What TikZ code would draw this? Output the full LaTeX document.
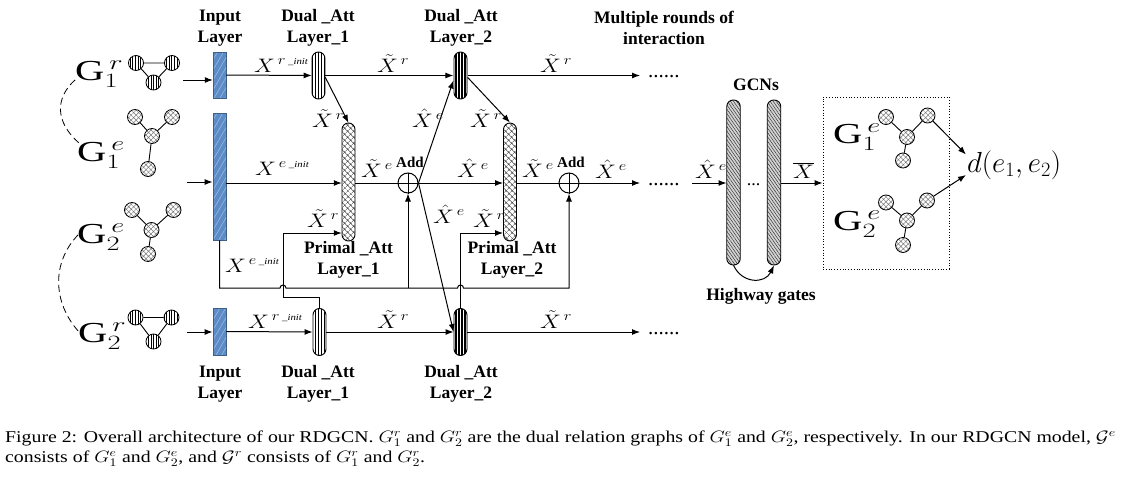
\RequirePackage{fix-cm}
\documentclass[tikz,border=0pt]{standalone}
\usepackage{fontspec}
\setmainfont{Liberation Serif}
\usepackage{graphicx}
\usepackage{tikz}
\usetikzlibrary{positioning, arrows.meta, patterns.meta, calc}
\definecolor{inputBlue}{HTML}{5B8CC8}
\definecolor{inputEdge}{HTML}{3E5F86}
\definecolor{gcnGray}{HTML}{D4D4D4}
\definecolor{meshGray}{HTML}{7A7A7A}

\newcommand{\xtil}[1]{\scalebox{1.2}[1]{$\tilde{X}^{\,#1}$}}
\newcommand{\xhat}[1]{\scalebox{1.2}[1]{$\hat{X}^{\,#1}$}}
\newcommand{\xinit}[1]{\scalebox{1.2}[1]{$X^{\,#1\,\mbox{\fontsize{9}{9}\selectfont\itshape\_init}}$}}
\newcommand{\gname}[2]{\scalebox{1.4}[1]{G$^{\,#1}_{#2}$}}
\newcommand{\capline}[1]{\scalebox{1.2}[1]{#1}}

\tikzset{
  flow/.style={line width=1pt, -{Latex[length=8pt,width=6pt]}},
  wire/.style={line width=1pt},
  gedge/.style={line width=0.9pt},
  inputbar/.style={draw=inputEdge, line width=0.8pt, minimum width=13pt, inner sep=0pt,
    preaction={fill=inputBlue}, pattern={Lines[angle=60,distance=5pt,line width=0.5pt]},
    pattern color=inputBlue!55!white},
  dualatt/.style={draw, line width=0.9pt, rounded corners=6.5pt, minimum width=13pt,
    minimum height=47pt, inner sep=0pt, preaction={fill=white},
    pattern={Lines[angle=90,distance=3pt,line width=0.6pt]}},
  dualattB/.style={dualatt, pattern={Lines[angle=90,distance=3pt,line width=1.2pt]}},
  primalatt/.style={draw, line width=0.9pt, rounded corners=6.5pt, minimum width=13pt,
    minimum height=118pt, inner sep=0pt, preaction={fill=white},
    pattern={Hatch[angle=45,distance=4pt,line width=0.5pt]}, pattern color=black!70},
  gcnbar/.style={draw, line width=0.9pt, rounded corners=6.5pt, minimum width=13.5pt,
    minimum height=165pt, inner sep=0pt, preaction={fill=gcnGray},
    pattern={Lines[angle=-55,distance=2.5pt,line width=0.5pt]}, pattern color=black!80},
  addop/.style={draw, circle, line width=1pt, minimum size=20pt, inner sep=0pt},
  enode/.style={draw, circle, line width=0.8pt, minimum size=15pt, inner sep=0pt,
    preaction={fill=white}, pattern={Hatch[angle=45,distance=3.5pt,line width=0.5pt]},
    pattern color=meshGray},
  rnode/.style={draw, circle, line width=0.8pt, minimum size=15pt, inner sep=0pt,
    preaction={fill=white}, pattern={Lines[angle=90,distance=2.6pt,line width=0.6pt]}},
  layerlbl/.style={font=\fontsize{17.5}{21}\selectfont\bfseries, align=center, inner sep=0pt},
  addlbl/.style={font=\fontsize{15}{15}\selectfont\bfseries, inner sep=0pt, anchor=base},
  feat/.style={font=\fontsize{19.5}{22}\selectfont, inner sep=0pt, anchor=base west},
  glabel/.style={font=\fontsize{29}{32}\selectfont, inner sep=0pt, anchor=base west},
  dots/.style={font=\fontsize{21}{21}\selectfont, inner sep=0pt, anchor=base west},
  caption/.style={font=\fontsize{16.5}{15}\selectfont, inner sep=0pt, anchor=base west},
}

\begin{document}
\begin{tikzpicture}[x=1pt, y=-1pt]
\useasboundingbox (0,0) rectangle (1130,479);

% graph labels and small input graphs
\node[glabel] (g1r) at (75,80) {\gname{r}{1}};
\node[glabel] (g1e) at (77,161) {\gname{e}{1}};
\node[glabel] (g2e) at (77,243) {\gname{e}{2}};
\node[glabel] (g2r) at (78,342) {\gname{r}{2}};
\draw[dashed, dash pattern=on 7pt off 4pt, line width=0.8pt]
  ($(g1r.west)+(0,6)$) .. controls (55,98) and (55,122) .. ($(g1e.west)+(2,-12)$);
\draw[dashed, dash pattern=on 7pt off 4pt, line width=0.8pt]
  ($(g2e.west)+(1,-2)$) .. controls (52,262) and (52,302) .. ($(g2r.west)+(1,-4)$);

\node[rnode] (r1a) at (136,63) {};
\node[rnode] (r1b) at (172,63) {};
\node[rnode] (r1c) at (153.5,82.5) {};
\draw[gedge] (r1a) -- (r1b) (r1b) -- (r1c) (r1c) -- (r1a);

\node[enode] (e1a) at (135,117) {};
\node[enode] (e1b) at (172,117) {};
\node[enode] (e1c) at (152,136) {};
\node[enode] (e1d) at (148,169) {};
\draw[gedge] (e1a) -- (e1c) (e1b) -- (e1c) (e1c) -- (e1d);

\node[enode] (e2a) at (132,210) {};
\node[enode] (e2b) at (173.5,210) {};
\node[enode] (e2c) at (151.5,230) {};
\node[enode] (e2d) at (148,254) {};
\draw[gedge] (e2a) -- (e2c) (e2b) -- (e2c) (e2c) -- (e2d);

\node[rnode] (r2a) at (135.5,317.5) {};
\node[rnode] (r2b) at (171.5,317.5) {};
\node[rnode] (r2c) at (153.5,341.5) {};
\draw[gedge] (r2a) -- (r2b) (r2b) -- (r2c) (r2c) -- (r2a);

% input layers
\node[inputbar, minimum height=46pt] (inp1) at (219.5,75) {};
\node[inputbar, minimum height=127pt] (inp2) at (219.5,176.5) {};
\node[inputbar, minimum height=47pt] (inp3) at (219.5,331.5) {};
\coordinate (src1) at (183,80);
\coordinate (src2) at (187,182);
\coordinate (src3) at (187,332);
\draw[flow] (src1) -- (src1 -| inp1.west);
\draw[flow] (src2) -- (src2 -| inp2.west);
\draw[flow] (src3) -- (src3 -| inp3.west);

% attention layers
\node[dualatt] (d1r) at (318.5,75.5) {};
\node[dualattB] (d2r) at (460.5,75.5) {};
\node[primalatt] (p1) at (348.5,182) {};
\node[primalatt] (p2) at (510,182) {};
\node[addop] (a1) at (408,183) {};
\node[addop] (a2) at (569,183) {};
\draw[line width=1pt] (a1.north) -- (a1.south) (a1.west) -- (a1.east);
\draw[line width=1pt] (a2.north) -- (a2.south) (a2.west) -- (a2.east);
\node[dualatt] (d1b) at (319.5,332) {};
\node[dualattB] (d2b) at (460.5,332) {};

% dots and GCNs
\node[dots] (dt1) at (648,77.5) {......};
\node[dots] (dt2) at (648,185.5) {......};
\node[dots] (dt3) at (648,334.5) {......};
\node[gcnbar] (gc1) at (733.5,182.5) {};
\node[gcnbar] (gc2) at (774,182.5) {};
\node[font=\fontsize{18}{18}\selectfont, inner sep=0pt, anchor=base] (gdots) at (753.5,185.5) {...};
\node[draw, dotted, line width=0.8pt, minimum width=126pt, minimum height=172pt] (outbox) at (886,183) {};

% top row
\draw[flow] (inp1.east) -- (d1r.west);
\draw[flow] (d1r.east) -- (d2r.west);
\draw[flow, shorten >=8pt] (d2r.east) -- (dt1.west |- d2r);
\draw[flow] (d1r.-15) -- (p1.north);
\draw[flow] (d2r.-15) -- (p2.north);
\draw[flow] (a1.east) -- ($(d2r.west)+(0,5)$);

% middle row
\draw[flow] (inp2.east |- a1) -- (p1.west |- a1);
\draw[wire] (p1.east |- a1) -- (a1.west);
\draw[flow] (a1.east) -- (p2.west |- a1);
\draw[wire] (p2.east |- a2) -- (a2.west);
\draw[flow, shorten >=8pt] (a2.east) -- (dt2.west |- a2);
\coordinate (gin) at (692,183);
\draw[flow] (gin) -- (gin -| gc1.west);
\draw[flow] (gc2.east |- gin) -- (outbox.west |- gin);
\draw[flow] (gc1.south) .. controls (742,284) and (765,284) .. (gc2.south);
\draw[flow] (a1.east) -- (d2b.west);

% e_init bus with hops
\draw[flow] (inp2.south) |- (280,288) arc (180:360:3) -- (457.5,288) arc (180:360:3)
  -- (a2.south |- 0,288) -- (a2.south);
\draw[flow] (a1.south |- 0,288) -- (a1.south);
\draw[flow] (d1b.north) |- (283,297) |- (p1.west |- 0,233);
\draw[flow] (d2b.north) |- (p2.west |- 0,233);

% bottom row
\draw[flow] (inp3.east) -- (d1b.west);
\draw[flow] (d1b.east) -- (d2b.west);
\draw[flow, shorten >=8pt] (d2b.east) -- (dt3.west |- d2b);

% feature labels
\node[feat] (lxr1) at (254,72) {\xinit{r}};
\node[feat] (ltr1) at (377,72) {\xtil{r}};
\node[feat] (ltr2) at (540,72) {\xtil{r}};
\node[feat] (ltd1) at (312,127) {\xtil{r}};
\node[feat] (lhd1) at (412,127) {\xhat{e}};
\node[feat] (ltd2) at (470,127) {\xtil{r}};
\node[feat] (lxe1) at (255,175) {\xinit{e}};
\node[feat] (lte1) at (361,177) {\xtil{e}};
\node[feat] (lhe1) at (457,177) {\xhat{e}};
\node[feat] (lte2) at (522,177) {\xtil{e}};
\node[feat] (lhe2) at (595,178) {\xhat{e}};
\node[feat] (lhe3) at (695,178) {\xhat{e}};
\node[feat] (lbar) at (793,178) {\scalebox{1.2}[1]{$\overline{X}$}};
\node[feat] (lhd2) at (433,223) {\xhat{e}};
\node[feat] (ltp1) at (307,227) {\xtil{r}};
\node[feat] (ltp2) at (473,227) {\xtil{r}};
\node[feat] (lxe2) at (225,272) {\xinit{e}};
\node[feat] (lxr2) at (248,328) {\xinit{r}};
\node[feat] (ltb1) at (377,328) {\xtil{r}};
\node[feat] (ltb2) at (540,328) {\xtil{r}};
\node[addlbl] (add1) at (410,167) {Add};
\node[addlbl] (add2) at (571,167) {Add};

% layer labels
\node[layerlbl] (linp1) at (220,28) {Input\\Layer};
\node[layerlbl] (ldua1) at (318,28) {Dual \_Att\\Layer\_1};
\node[layerlbl] (ldua2) at (461,28) {Dual \_Att\\Layer\_2};
\node[layerlbl] (lmult) at (664,28) {Multiple rounds of\\interaction};
\node[layerlbl] (lpri1) at (348.5,260) {Primal \_Att\\Layer\_1};
\node[layerlbl] (lpri2) at (512,260) {Primal \_Att\\Layer\_2};
\node[layerlbl] (linp2) at (220,384) {Input\\Layer};
\node[layerlbl] (ldub1) at (318,384) {Dual \_Att\\Layer\_1};
\node[layerlbl] (ldub2) at (461,384) {Dual \_Att\\Layer\_2};
\node[layerlbl, anchor=base] (lgcn) at (756,90) {GCNs};
\node[layerlbl, anchor=base] (lhwy) at (761,300) {Highway gates};

% output graphs
\node[glabel] (o1e) at (833,143) {\gname{e}{1}};
\node[glabel] (o2e) at (833,230) {\gname{e}{2}};
\node[enode] (c1a) at (886,117) {};
\node[enode] (c1b) at (927.5,115.5) {};
\node[enode] (c1c) at (907,137) {};
\node[enode] (c1d) at (903,160.5) {};
\draw[gedge] (c1a) -- (c1c) (c1b) -- (c1c) (c1c) -- (c1d);
\node[enode] (c2a) at (886,202.5) {};
\node[enode] (c2b) at (927,200.5) {};
\node[enode] (c2c) at (907,220.5) {};
\node[enode] (c2d) at (903,245) {};
\draw[gedge] (c2a) -- (c2c) (c2b) -- (c2c) (c2c) -- (c2d);
\node[font=\fontsize{29}{30}\selectfont, inner sep=1pt, anchor=base west] (dist) at (966,172) {$d(e_1,e_2)$};
\draw[flow] (c1b) -- (dist.168);
\draw[flow] (c2b) -- (dist.192);

% caption
\node[caption] (cap1) at (5,442) {\capline{Figure 2: Overall architecture of our RDGCN. $G_1^r$ and $G_2^r$ are the dual relation graphs of $G_1^e$ and $G_2^e$, respectively. In our RDGCN model, $\mathcal{G}^e$}};
\node[caption] (cap2) at (5,462) {\capline{consists of $G_1^e$ and $G_2^e$, and $\mathcal{G}^r$ consists of $G_1^r$ and $G_2^r$.}};
\end{tikzpicture}
\end{document}
